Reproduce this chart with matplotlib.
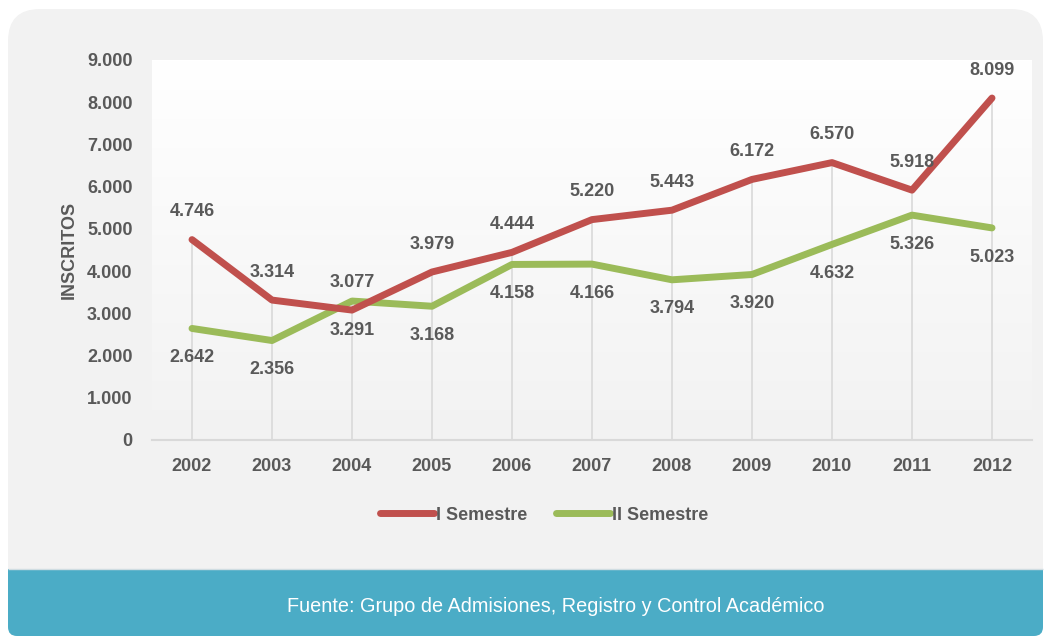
import numpy as np
import matplotlib.pyplot as plt
from matplotlib.patches import FancyBboxPatch, Rectangle
from matplotlib.colors import LinearSegmentedColormap
from matplotlib.lines import Line2D

# data
years = ['2002', '2003', '2004', '2005', '2006', '2007', '2008', '2009', '2010', '2011', '2012']
sem1 = [4746, 3314, 3077, 3979, 4444, 5220, 5443, 6172, 6570, 5918, 8099]
sem2 = [2642, 2356, 3291, 3168, 4158, 4166, 3794, 3920, 4632, 5326, 5023]
yticks = [0, 1000, 2000, 3000, 4000, 5000, 6000, 7000, 8000, 9000]

red = '#c0504d'
green = '#9bbb59'
teal = '#4bacc6'
txt = '#595959'
W, H = 1050, 638

plt.rcParams['font.family'] = ['Liberation Sans', 'DejaVu Sans']

fig = plt.figure(figsize=(W / 100, H / 100), dpi=100)
fig.patch.set_facecolor('white')


def fx(x):
    return x / W


def fy(y):
    return 1 - y / H


# background axes in pixel units for the panel and footer
bg = fig.add_axes([0, 0, 1, 1], zorder=-5)
bg.set_xlim(0, W)
bg.set_ylim(H, 0)
bg.axis('off')
bg.add_patch(FancyBboxPatch((8, 9), 1035, 627, boxstyle='round,pad=0,rounding_size=32',
                            facecolor='#f2f2f2', edgecolor='none'))
bg.add_patch(FancyBboxPatch((8, 569), 1035, 67, boxstyle='round,pad=0,rounding_size=9',
                            facecolor=teal, edgecolor='none'))
bg.add_patch(Rectangle((8, 569), 1035, 30, facecolor=teal, edgecolor='none'))
bg.hlines(569, 8, 1043, color='#d0dde2', lw=1)
bg.text(556, 607, 'Fuente: Grupo de Admisiones, Registro y Control Académico',
        color='white', fontsize=14.3, ha='center', va='center')

ax = fig.add_axes([fx(152), fy(440), fx(880), fy(60) - fy(440)], zorder=1)
ax.set_facecolor('none')
x = np.arange(len(years))
ax.set_xlim(-0.5, len(years) - 0.5)
ax.set_ylim(0, 9000)

# gradient plot background
grad = np.linspace(0, 1, 256).reshape(-1, 1)
ax.imshow(grad, extent=[-0.5, len(years) - 0.5, 0, 9000], aspect='auto',
          cmap=LinearSegmentedColormap.from_list('g', ['#f2f2f2', '#ffffff']),
          zorder=0, origin='lower')

# drop lines
tops = [max(a, b) for a, b in zip(sem1, sem2)]
ax.vlines(x, 0, tops, color='#d9d9d9', lw=1.2, zorder=1)

ax.plot(x, sem1, color=red, lw=5, solid_capstyle='round', solid_joinstyle='round', zorder=3)
ax.plot(x, sem2, color=green, lw=5, solid_capstyle='round', solid_joinstyle='round', zorder=2)

for i in range(len(years)):
    ax.annotate(f'{sem1[i] / 1000:.3f}', (x[i], sem1[i]), xytext=(0, 20), textcoords='offset points',
                ha='center', va='center', fontsize=13, fontweight='bold', color=txt)
    ax.annotate(f'{sem2[i] / 1000:.3f}', (x[i], sem2[i]), xytext=(0, -21), textcoords='offset points',
                ha='center', va='center', fontsize=13, fontweight='bold', color=txt)

ax.set_xticks(x)
ax.set_xticklabels(years)
ax.set_yticks(yticks)
ax.set_yticklabels(['0'] + [f'{v // 1000}.000' for v in yticks[1:]])
ax.tick_params(length=0, labelsize=13, colors=txt)
ax.tick_params(axis='x', pad=13)
ax.tick_params(axis='y', pad=14)
for lab in ax.get_xticklabels() + ax.get_yticklabels():
    lab.set_fontweight('bold')
for s in ['top', 'right', 'left']:
    ax.spines[s].set_visible(False)
ax.spines['bottom'].set_color('#d9d9d9')
ax.spines['bottom'].set_linewidth(1.5)

ax.set_ylabel('INSCRITOS', fontsize=13, fontweight='bold', color=txt, labelpad=7)

handles = [Line2D([], [], color=red, lw=5, solid_capstyle='round'),
           Line2D([], [], color=green, lw=5, solid_capstyle='round')]
leg = ax.legend(handles, ['I Semestre', 'II Semestre'], loc='center',
                bbox_to_anchor=(fx(544), fy(515)), bbox_transform=fig.transFigure,
                ncol=2, frameon=False, handlelength=3.0, handletextpad=0.1, columnspacing=1.6,
                prop={'size': 13, 'weight': 'bold'})
for t in leg.get_texts():
    t.set_color(txt)

fig.savefig('out.png', dpi=100)
